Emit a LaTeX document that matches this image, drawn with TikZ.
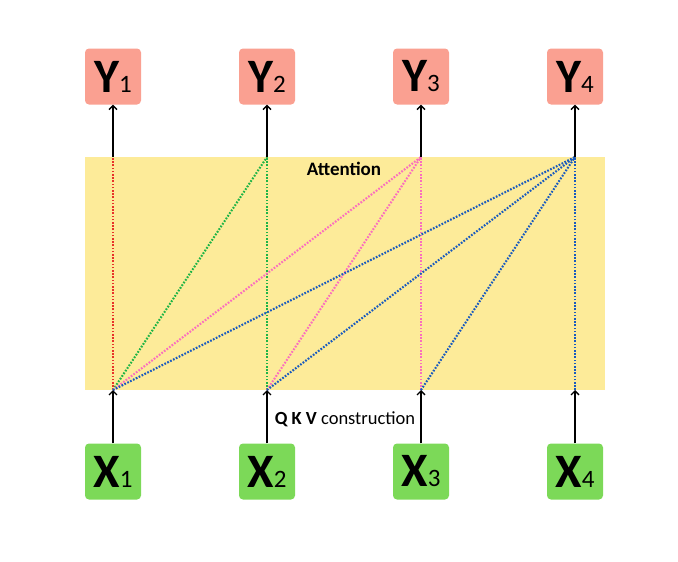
\documentclass[tikz,border=0pt]{standalone}
\usepackage{fontspec}
\setmainfont{Carlito}
\usetikzlibrary{arrows.meta}
\definecolor{bandyellow}{RGB}{253,235,153}
\definecolor{salmonbox}{RGB}{250,160,145}
\definecolor{greenbox}{RGB}{124,217,88}
\definecolor{lred}{RGB}{232,50,40}
\definecolor{lgreen}{RGB}{30,180,70}
\definecolor{lpink}{RGB}{250,110,190}
\definecolor{lblue}{RGB}{25,90,190}
\newcommand\subidx[1]{{\mdseries\fontsize{25}{25}\selectfont #1}}
\begin{document}
\begin{tikzpicture}[x=1pt,y=-1pt,
  ybox/.style={fill=salmonbox, rounded corners=4pt, minimum width=56pt, minimum height=56pt, inner sep=0pt, font=\bfseries\fontsize{48}{48}\selectfont},
  xbox/.style={ybox, fill=greenbox},
  uparrow/.style={line width=1.6pt, -{Straight Barb[length=4pt,width=8pt,line width=1.4pt]}},
  att/.style={line width=2.1pt, dash pattern=on 1.7pt off 1.5pt}
]
\useasboundingbox (0,0) rectangle (678,562);
\fill[bandyellow] (85,157) rectangle (605,390);
\foreach \i/\x in {1/113,2/267,3/421,4/575}{
  \node[ybox] (Y\i) at (\x,76.5) {Y\subidx{\i}};
  \node[xbox] (X\i) at (\x,471.5) {X\subidx{\i}};
  \coordinate (t\i) at (\x,157);
  \coordinate (b\i) at (\x,390);
}
\node[font=\bfseries\fontsize{19}{19}\selectfont] (attn) at (344,169) {Attention};
\node[font=\fontsize{18.5}{18.5}\selectfont] (qkv) at (345,419) {\textbf{Q K V} construction};
% attention lines
\draw[att, lred] (b1) -- (t1);
\foreach \i in {1,2} \draw[att, lgreen] (b\i) -- (t2);
\foreach \i in {1,2,3} \draw[att, lpink] (b\i) -- (t3);
\foreach \i in {1,2,3,4} \draw[att, lblue] (b\i) -- (t4);
% arrows
\foreach \i in {1,2,3,4}{
  \draw[uparrow] (X\i.north) -- (b\i);
  \draw[uparrow] (t\i) -- (Y\i.south);
}
\end{tikzpicture}
\end{document}
